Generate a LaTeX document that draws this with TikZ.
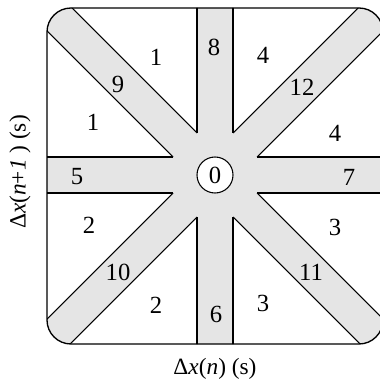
\documentclass[tikz,border=0pt]{standalone}
\usepackage{fontspec}
\setmainfont{Liberation Serif}
\usepackage{tikz}
\usepackage{xcolor}
\usetikzlibrary{positioning}

\begin{document}
\begin{tikzpicture}[x=0.75pt, y=-0.75pt,
    band/.style={fill=gray!20},
    edge/.style={line width=0.8pt},
    frame/.style={rounded corners=18pt, line width=1pt},
    lbl/.style={font=\fontsize{18.5}{21}\selectfont, inner sep=0pt},
    axlbl/.style={font=\fontsize{17.5}{20}\selectfont, inner sep=0pt}]
    \useasboundingbox (0,0) rectangle (379,384);
    % grey bands, kept inside the frame
    \begin{scope}
      \clip[rounded corners=18pt] (47,8) rectangle (383,344);
      \fill[band] (-100,157) rectangle (500,193);
      \fill[band] (197,-100) rectangle (233,450);
      \fill[band] (-36,-100) -- (464,400) -- (416,400) -- (-84,-100) -- cycle;
      \fill[band] (466,-100) -- (-34,400) -- (14,400) -- (514,-100) -- cycle;
      \draw[edge] (197,133) -- (-36,-100) (173,157) -- (-84,-100)
                  (233,133) -- (466,-100) (257,157) -- (514,-100)
                  (257,193) -- (464,400) (233,217) -- (416,400)
                  (173,193) -- (-34,400) (197,217) -- (14,400);
      \draw[edge] (197,133) -- (197,-100) (233,133) -- (233,-100)
                  (197,217) -- (197,450) (233,217) -- (233,450)
                  (173,157) -- (-100,157) (257,157) -- (500,157)
                  (173,193) -- (-100,193) (257,193) -- (500,193);
    \end{scope}
    \draw[frame] (47,8) rectangle (383,344);
    \node[lbl, circle, draw, fill=white, line width=0.8pt,
          minimum size=27pt] (c0) at (215,175) {0};
    % region and band numbers
    \node[lbl] (r1a) at (156,57) {1};
    \node[lbl] (b9) at (118,84) {9};
    \node[lbl] (r1b) at (93,122) {1};
    \node[lbl] (b5) at (77,177) {5};
    \node[lbl] (b8) at (214,47) {8};
    \node[lbl] (r4a) at (263,55) {4};
    \node[lbl] (b12) at (302,87) {12};
    \node[lbl] (r4b) at (335,133) {4};
    \node[lbl] (b7) at (349,177) {7};
    \node[lbl] (r2a) at (89,225) {2};
    \node[lbl] (b10) at (118,272) {10};
    \node[lbl] (r2b) at (156,305) {2};
    \node[lbl] (b6) at (216,314) {6};
    \node[lbl] (r3a) at (263,303) {3};
    \node[lbl] (b11) at (311,272) {11};
    \node[lbl] (r3b) at (335,227) {3};
    % axes
    \node[axlbl] (xlab) at (215,369) {Δ\textit{x}(\textit{n}) (s)};
    \node[axlbl, rotate=90] (ylab) at (20,172) {Δ\textit{x}(\textit{n}+\textit{1} ) (s)};
  \end{tikzpicture}
\end{document}
